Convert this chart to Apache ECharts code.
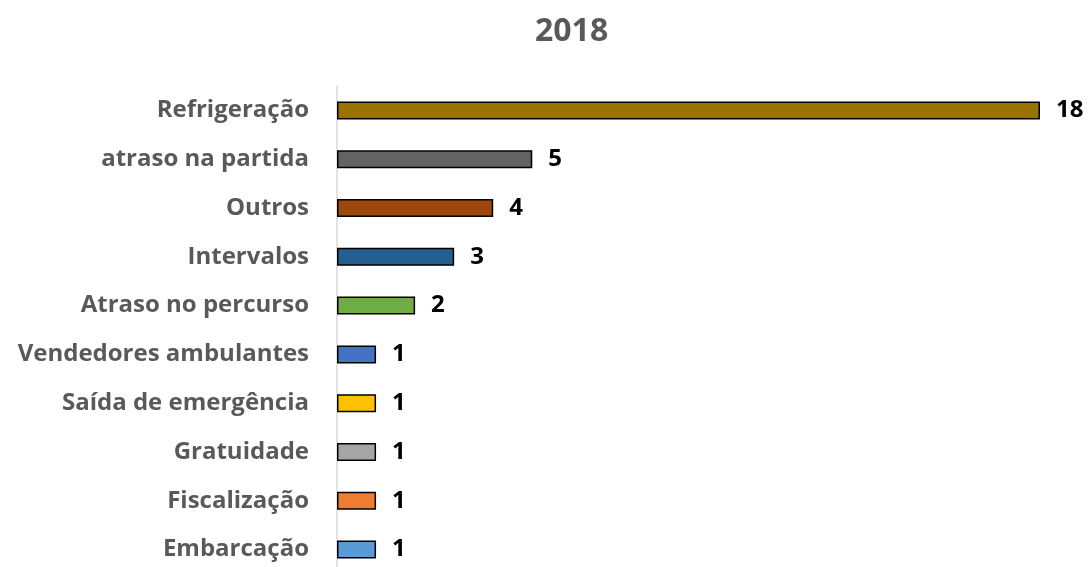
<!DOCTYPE html>
<html>
<head>
<meta charset="utf-8">
<script src="https://cdn.jsdelivr.net/npm/echarts@6/dist/echarts.min.js"></script>
<style>
  html, body { margin: 0; padding: 0; background: #fff; }
  #chart { width: 1088px; height: 567px; }
</style>
</head>
<body>
<div id="chart"></div>
<script>
// Complaint categories, top to bottom
const categories = [
  'Refrigeração', 'atraso na partida', 'Outros', 'Intervalos', 'Atraso no percurso',
  'Vendedores ambulantes', 'Saída de emergência', 'Gratuidade', 'Fiscalização', 'Embarcação'
];
const counts = [18, 5, 4, 3, 2, 1, 1, 1, 1, 1];
const barColors = [
  '#997300', '#636363', '#9E480E', '#255E91', '#70AD47',
  '#4472C4', '#FFC000', '#A5A5A5', '#ED7D31', '#5B9BD5'
];

const FONT = '"Open Sans", Lato, sans-serif';
const chart = echarts.init(document.getElementById('chart'), null, { renderer: 'canvas' });

chart.setOption({
  animation: false,
  title: {
    text: '2018',
    left: 530,
    top: 11,
    textStyle: { fontFamily: FONT, fontSize: 32, fontWeight: 'bold', color: '#595959' }
  },
  grid: {
    left: 337, width: 703, top: 86, height: 488,
    containLabel: false,
    outerBoundsMode: 'none'
  },
  xAxis: {
    type: 'value',
    min: 0,
    max: 18,
    show: false
  },
  yAxis: {
    type: 'category',
    data: categories,
    inverse: true,
    axisLine: { show: true, lineStyle: { color: '#D9D9D9', width: 1.5 } },
    axisTick: { show: false },
    axisLabel: {
      margin: 28,
      fontFamily: FONT,
      fontSize: 24,
      fontWeight: 'bold',
      color: '#595959'
    }
  },
  series: [{
    type: 'bar',
    data: counts.map((v, i) => ({ value: v, itemStyle: { color: barColors[i] } })),
    barWidth: 18,
    itemStyle: { borderColor: '#000', borderWidth: 1.5 },
    label: {
      show: true,
      position: 'right',
      distance: 16,
      fontFamily: FONT,
      fontSize: 24,
      fontWeight: 'bold',
      color: '#000'
    }
  }]
});
</script>
</body>
</html>
